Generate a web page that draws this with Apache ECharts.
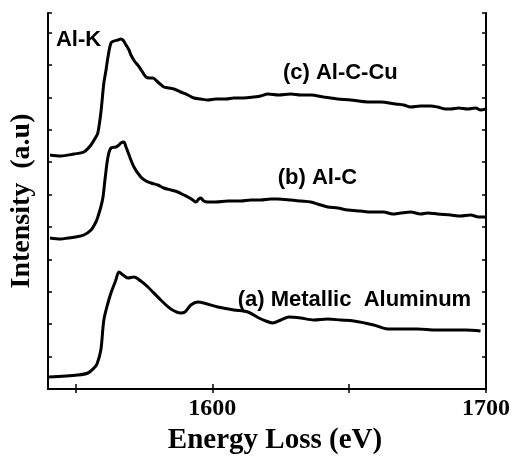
<!DOCTYPE html>
<html>
<head>
<meta charset="utf-8">
<script src="https://cdn.jsdelivr.net/npm/echarts@6/dist/echarts.min.js"></script>
<style>
html,body{margin:0;padding:0;background:#fff;}
#chart{width:513px;height:466px;}
</style>
</head>
<body>
<div id="chart"></div>
<script>
// ---- data ----
const energyA = [1540.4,1550.9,1554.6,1556.8,1557.9,1559.3,1560.4,1561.9,1563.0,1564.8,1565.9,1567.4,1569.2,1571.4,1573.9,1576.5,1581.2,1584.9,1588.5,1590.0,1592.2,1594.7,1596.9,1602.0,1607.9,1613.0,1617.0,1619.6,1622.1,1625.0,1628.0,1632.3,1637.1,1642.2,1646.9,1651.7,1659.0,1664.1,1668.8,1675.0,1681.6,1687.1,1692.6,1698.0];
const intensityA = [12,14,16,21,25,39,69,86,96,109,117,114,111,112,108,102,89,80,76,77,84,87,86,82,79,77,71,68,66,69,72,71,69,70,69,68,64,60,60,60,59,59,59,58];

const energyB = [1540.7,1544.7,1547.3,1550.2,1553.1,1555.7,1557.5,1558.2,1559.3,1560.1,1560.8,1561.9,1563.0,1564.8,1565.9,1566.6,1567.7,1568.5,1569.6,1571.4,1573.9,1575.8,1577.6,1580.1,1582.3,1584.9,1587.4,1589.6,1591.1,1592.9,1594.0,1595.1,1595.8,1596.9,1598.4,1601.3,1605.7,1610.4,1614.1,1617.7,1621.4,1623.9,1628.7,1632.3,1636.0,1638.5,1642.2,1645.8,1649.5,1654.2,1657.9,1662.6,1665.9,1668.8,1672.5,1676.1,1678.7,1682.3,1687.1,1690.7,1694.4,1697.3,1700.0];
const intensityB = [151,150,151,152,154,159,167,172,182,192,209,232,241,242,244,246,247,242,234,222,212,208,206,204,201,199,197,194,192,189,187,190,191,188,187,187,188,188,189,189,190,190,189,188,187,185,182,181,179,178,177,177,175,176,177,175,176,175,174,173,174,172,172];

const energyC = [1540.7,1544.7,1549.5,1553.1,1555.7,1557.5,1558.2,1559.3,1560.4,1561.2,1561.9,1563.0,1564.1,1565.5,1566.6,1567.4,1568.5,1569.6,1570.3,1571.8,1572.8,1574.3,1575.8,1577.2,1578.3,1580.1,1582.3,1584.2,1586.0,1588.5,1591.1,1593.3,1595.8,1598.4,1601.3,1605.0,1607.9,1611.5,1615.2,1617.7,1620.3,1624.3,1628.7,1632.3,1636.0,1640.7,1643.3,1645.8,1650.6,1656.8,1661.5,1667.0,1669.9,1672.5,1676.1,1679.8,1682.3,1685.3,1687.1,1690.0,1693.3,1696.2,1698.0,1700.0];
const intensityC = [234,233,235,237,244,252,256,276,306,319,332,346,348,349,350,349,344,339,334,327,324,318,312,311,311,307,302,301,300,297,294,291,290,289,290,290,291,291,292,293,295,294,295,294,294,292,291,290,289,287,287,285,284,282,283,283,282,280,280,281,280,281,279,280];

const xTickValues = [1550, 1600, 1650, 1700];
const xLabelValues = [1600, 1700];

const annotations = [
  {text: 'Al-K', x: 1542.9, y: 349},
  {text: '(c) Al-C-Cu', x: 1625.8, y: 316},
  {text: '(b) Al-C', x: 1623.9, y: 211},
  {text: '(a) Metallic  Aluminum', x: 1609.3, y: 89}
];

function zip(xs, ys){ return xs.map((x,i)=>[x, ys[i]]); }

const chart = echarts.init(document.getElementById('chart'), null, {renderer:'canvas'});
const axisLine = {show:true, lineStyle:{color:'#000', width:2}};
const lineSeries = (name, xs, ys) => ({
  name, type:'line', data: zip(xs, ys), showSymbol:false, smooth:0.3,
  lineStyle:{color:'#000', width:3}, animation:false, xAxisIndex:0, yAxisIndex:0
});

chart.setOption({
  animation:false,
  backgroundColor:'#fff',
  grid:{left:47, top:13, width:439, height:376, containLabel:false},
  xAxis:[{
    type:'value', min:1540, max:1700, position:'bottom',
    axisLine, splitLine:{show:false},
    axisTick:{show:true, inside:true, length:5, lineStyle:{color:'#000', width:1.5}, customValues: xTickValues},
    axisLabel:{show:true, customValues: xLabelValues, margin:8, formatter: v => String(v),
      fontFamily:'Liberation Serif', fontWeight:'bold', fontSize:24, color:'#000'},
    name:'Energy Loss (eV)', nameLocation:'middle', nameGap:32,
    nameTextStyle:{fontFamily:'Liberation Serif', fontWeight:'bold', fontSize:29, color:'#000', padding:[0,0,0,16]}
  },{
    type:'value', min:1540, max:1700, position:'top',
    axisLine, splitLine:{show:false},
    axisTick:{show:true, inside:true, length:4, lineStyle:{color:'#000', width:1.5}, customValues: xTickValues},
    axisLabel:{show:false}
  }],
  yAxis:[{
    type:'value', min:0, max:376, interval:32.4, position:'left',
    axisLine, splitLine:{show:false},
    axisTick:{show:true, inside:true, length:4, lineStyle:{color:'#000', width:1.5}},
    axisLabel:{show:false},
    name:'Intensity  (a.u)', nameLocation:'middle', nameGap:12, nameRotate:90,
    nameTextStyle:{fontFamily:'Liberation Serif', fontWeight:'bold', fontSize:28, color:'#000'}
  },{
    type:'value', min:0, max:376, interval:32.4, position:'right',
    axisLine, splitLine:{show:false},
    axisTick:{show:true, inside:true, length:4, lineStyle:{color:'#000', width:1.5}},
    axisLabel:{show:false}
  }],
  series:[
    lineSeries('(a) Metallic Aluminum', energyA, intensityA),
    lineSeries('(b) Al-C', energyB, intensityB),
    lineSeries('(c) Al-C-Cu', energyC, intensityC)
  ]
});

const graphics = annotations.map(a => {
  const p = chart.convertToPixel({xAxisIndex:0, yAxisIndex:0}, [a.x, a.y]);
  return {type:'text', x:p[0], y:p[1], style:{text:a.text, fill:'#000',
    font:'bold 22px "Liberation Sans", Arial, sans-serif', textAlign:'left', textVerticalAlign:'middle'}};
});
chart.setOption({graphic: graphics});
</script>
</body>
</html>
